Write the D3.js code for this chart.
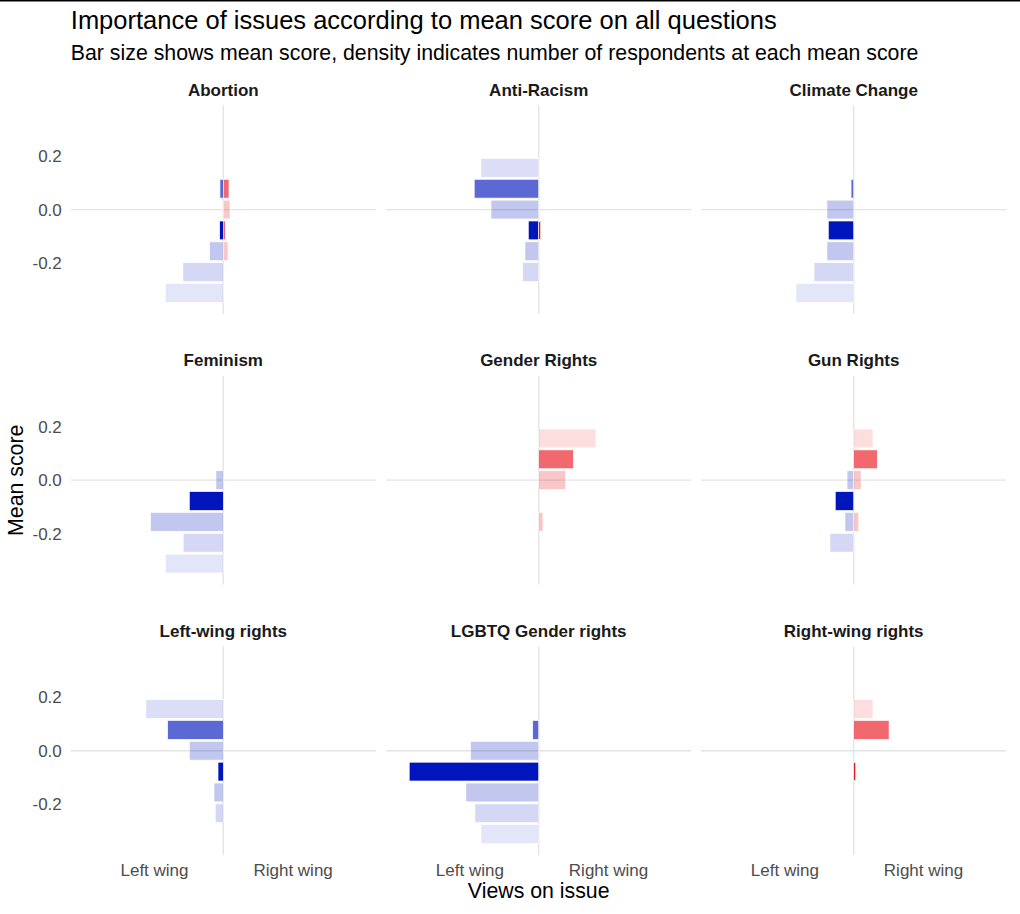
<!DOCTYPE html>
<html><head><meta charset="utf-8">
<script src="https://cdn.jsdelivr.net/npm/d3@7"></script>
<style>
body{margin:0;background:#fff}
svg{display:block}
text{font-family:"Liberation Sans",Arial,Helvetica,sans-serif}
</style>
</head><body>
<svg id="chart" width="1020" height="914"></svg>
<script>
// ---------- data ----------
const issues = ["Abortion","Anti-Racism","Climate Change","Feminism","Gender Rights","Gun Rights","Left-wing rights","LGBTQ Gender rights","Right-wing rights"];
const bins = [0.156, 0.078, 0, -0.078, -0.156, -0.234, -0.312];
const binDensity = [0.14, 0.64, 0.24, 1.0, 0.24, 0.17, 0.11];
// left-wing (negative) bar values per issue per bin, null = no bar
const leftWing = [
  [null, -0.024, null, -0.026, -0.098, -0.291, -0.418],
  [-0.416, -0.465, -0.344, -0.075, -0.099, -0.115, null],
  [null, -0.019, -0.193, -0.183, -0.193, -0.286, -0.416],
  [null, null, -0.053, -0.245, -0.524, -0.289, -0.418],
  [null, null, null, null, null, null, null],
  [null, null, -0.048, -0.133, -0.063, -0.171, null],
  [-0.558, -0.401, -0.245, -0.038, -0.067, -0.058, null],
  [null, -0.043, -0.491, -0.934, -0.525, -0.460, -0.416],
  [null, null, null, null, null, null, null]
];
// right-wing (positive) bar values per issue per bin
const rightWing = [
  [null, 0.041, 0.048, 0.012, 0.034, null, null],
  [null, null, null, 0.014, null, null, null],
  [null, null, null, null, null, null, null],
  [null, null, null, null, null, null, null],
  [0.413, 0.250, 0.195, null, 0.031, null, null],
  [0.139, 0.170, 0.053, null, 0.036, null, null],
  [null, null, null, null, null, null, null],
  [null, null, null, null, null, null, null],
  [0.139, 0.255, null, 0.014, null, null, null]
];
const yTicks = [-0.2, 0, 0.2];
const xTicks = [-0.5, 0.5];
const xTickLabels = ["Left wing", "Right wing"];
const titleText = "Importance of issues according to mean score on all questions";
const subtitleText = "Bar size shows mean score, density indicates number of respondents at each mean score";

// ---------- layout ----------
const svg = d3.select("#chart");
const panelW = 305, panelH = 208.5;
const colLeft = [70.8, 386.2, 701.2];
const rowTop = [105.3, 375.9, 646.5];
const binWidth = 0.078;
const blue = "#0015BC", red = "#E9141D";

const x = d3.scaleLinear().domain([-1.1, 1.1]).range([0, panelW]);
const y = d3.scaleLinear().domain([-0.39, 0.39]).range([panelH, 0]);
const alpha = d3.scaleLinear().domain([0, 1]).range([0, 1]);

svg.append("rect").attr("x", 0).attr("y", 0).attr("width", 1020).attr("height", 1.5).attr("fill", "#000");

svg.append("text").attr("x", 70.8).attr("y", 29).attr("font-size", 25.5).attr("fill", "#000").text(titleText);
svg.append("text").attr("x", 70.8).attr("y", 60).attr("font-size", 21.3).attr("fill", "#000").text(subtitleText);

issues.forEach((issue, i) => {
  const col = i % 3, row = Math.floor(i / 3);
  const g = svg.append("g").attr("transform", `translate(${colLeft[col]},${rowTop[row]})`);

  // strip
  g.append("text").attr("x", panelW / 2).attr("y", -9.5).attr("text-anchor", "middle")
    .attr("font-size", 17).attr("font-weight", "bold").attr("fill", "#1A1A1A").text(issue);

  // reference lines
  g.append("line").attr("x1", 0).attr("x2", panelW).attr("y1", y(0)).attr("y2", y(0))
    .attr("stroke", "#e3e3e3").attr("stroke-width", 1.3);
  g.append("line").attr("x1", x(0)).attr("x2", x(0)).attr("y1", 0).attr("y2", panelH)
    .attr("stroke", "#e3e3e3").attr("stroke-width", 1.3);

  const bars = [];
  bins.forEach((b, j) => {
    if (leftWing[i][j] !== null) bars.push({bin: b, v: leftWing[i][j], d: binDensity[j], c: blue});
    if (rightWing[i][j] !== null) bars.push({bin: b, v: rightWing[i][j], d: binDensity[j], c: red});
  });
  g.selectAll("rect.bar").data(bars).join("rect").attr("class", "bar")
    .attr("x", d => Math.min(x(0), x(d.v)))
    .attr("width", d => Math.abs(x(d.v) - x(0)))
    .attr("y", d => y(d.bin + binWidth * 0.45))
    .attr("height", d => y(d.bin - binWidth * 0.45) - y(d.bin + binWidth * 0.45))
    .attr("fill", d => d.c)
    .attr("fill-opacity", d => alpha(d.d))
    .attr("stroke", "#fff").attr("stroke-width", 0.6);

  if (col === 0) {
    const ya = g.append("g").call(d3.axisLeft(y).tickValues(yTicks).tickSize(0).tickPadding(9)
      .tickFormat(d3.format(".1f")));
    ya.select(".domain").remove();
    ya.selectAll("text").attr("font-size", 17).attr("fill", "#4D4D4D")
      .attr("font-family", "'Liberation Sans',Arial,sans-serif")
      .text(d => d3.format(".1f")(d).replace("−", "-"));
  }
  if (row === 2) {
    const xa = g.append("g").attr("transform", `translate(0,${panelH})`)
      .call(d3.axisBottom(x).tickValues(xTicks).tickSize(0).tickPadding(9)
        .tickFormat((d, k) => xTickLabels[k]));
    xa.select(".domain").remove();
    xa.selectAll("text").attr("font-size", 17).attr("fill", "#4D4D4D")
      .attr("font-family", "'Liberation Sans',Arial,sans-serif");
  }
});

svg.append("text").attr("x", 538.7).attr("y", 898).attr("text-anchor", "middle")
  .attr("font-size", 21.3).attr("fill", "#000").text("Views on issue");
svg.append("text").attr("transform", "translate(23,480.3) rotate(-90)").attr("text-anchor", "middle")
  .attr("font-size", 21.3).attr("fill", "#000").text("Mean score");
</script>
</body></html>
